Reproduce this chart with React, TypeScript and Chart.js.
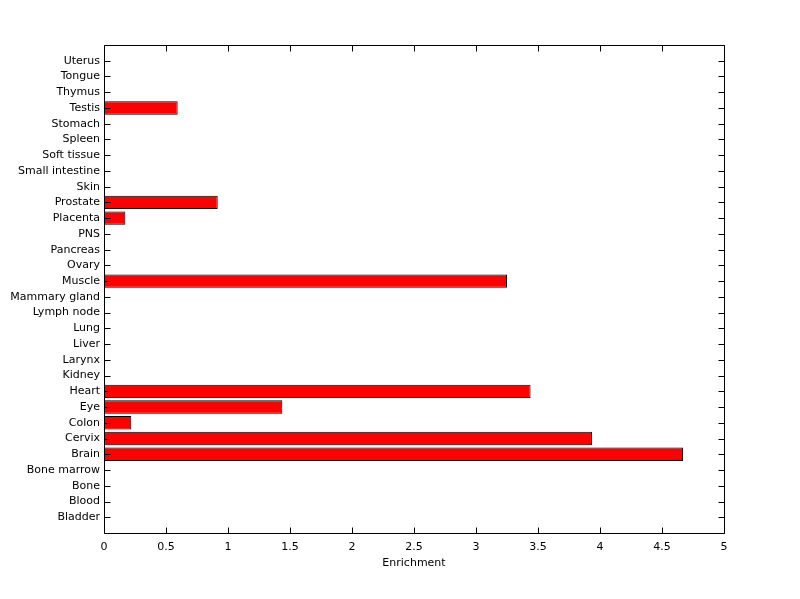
import React, { useEffect, useRef } from "react";
import { Chart, registerables } from "chart.js";

Chart.register(...registerables);

const tissues: string[] = [
  "Bladder", "Blood", "Bone", "Bone marrow", "Brain", "Cervix", "Colon", "Eye", "Heart", "Kidney",
  "Larynx", "Liver", "Lung", "Lymph node", "Mammary gland", "Muscle", "Ovary", "Pancreas", "PNS", "Placenta",
  "Prostate", "Skin", "Small intestine", "Soft tissue", "Spleen", "Stomach", "Testis", "Thymus", "Tongue", "Uterus",
];

const enrichment: number[] = [
  0, 0, 0, 0, 4.67, 3.935, 0.22, 1.438, 3.44, 0,
  0, 0, 0, 0, 0, 3.25, 0, 0, 0, 0.172,
  0.917, 0, 0, 0, 0, 0, 0.594, 0, 0, 0,
];

const xTitle = "Enrichment";

const FONT = "'DejaVu Sans', sans-serif";

const boxTicks = {
  id: "boxTicks",
  afterDraw(chart: any) {
    const { ctx, chartArea } = chart;
    const { left, right, top, bottom } = chartArea;
    const xs = chart.scales.x;
    const ys = chart.scales.y;
    const L = 6;
    ctx.save();
    ctx.strokeStyle = "#000";
    ctx.lineWidth = 1;
    ctx.beginPath();
    const l = Math.round(left) + 0.5;
    const r = Math.round(right) + 0.5;
    const t = Math.round(top) + 0.5;
    const b = Math.round(bottom) + 0.5;
    ctx.rect(l, t, r - l, b - t);
    xs.ticks.forEach((tk: any) => {
      const px = Math.round(xs.getPixelForValue(tk.value)) + 0.5;
      ctx.moveTo(px, b);
      ctx.lineTo(px, b - L);
      ctx.moveTo(px, t);
      ctx.lineTo(px, t + L);
    });
    ys.ticks.forEach((tk: any) => {
      if (tk.value < 1 || tk.value > tissues.length) return;
      const py = Math.round(ys.getPixelForValue(tk.value)) + 0.5;
      ctx.moveTo(l, py);
      ctx.lineTo(l + L, py);
      ctx.moveTo(r, py);
      ctx.lineTo(r - L, py);
    });
    ctx.stroke();
    ctx.restore();
  },
};

export default function App() {
  const ref = useRef<HTMLCanvasElement>(null);

  useEffect(() => {
    document.body.style.margin = "0";
    const canvas = ref.current!;
    const chart = new Chart(canvas, {
      type: "bar",
      data: {
        datasets: [
          {
            data: enrichment.map((v, i) => ({ x: v, y: i + 1 })),
            backgroundColor: "#ff0000",
            borderColor: "#000000",
            borderWidth: 1,
            borderSkipped: false,
            categoryPercentage: 1,
            barPercentage: 0.85,
          },
        ],
      },
      options: {
        indexAxis: "y",
        responsive: false,
        animation: false,
        devicePixelRatio: 1,
        layout: { padding: { top: 45, right: 76, left: 0, bottom: 0 } },
        plugins: {
          legend: { display: false },
          tooltip: { enabled: false },
        },
        scales: {
          x: {
            type: "linear",
            position: "bottom",
            min: 0,
            max: 5,
            offset: false,
            ticks: {
              stepSize: 0.5,
              color: "#000",
              font: { family: FONT, size: 11 },
              padding: 8,
              maxRotation: 0,
              autoSkip: false,
              callback: (v: any) => String(Number(v)),
            },
            grid: { display: false, drawTicks: false, offset: false },
            border: { display: false },
            title: {
              display: true,
              text: xTitle,
              color: "#000",
              font: { family: FONT, size: 11 },
              padding: { top: 2, bottom: 29 },
            },
            afterFit(scale: any) {
              scale.height = 66;
            },
          },
          y: {
            type: "linear",
            position: "left",
            min: 0,
            max: tissues.length + 1,
            offset: false,
            ticks: {
              stepSize: 1,
              autoSkip: false,
              color: "#000",
              font: { family: FONT, size: 11 },
              padding: 4,
              callback: (v: any) => tissues[Number(v) - 1] ?? "",
            },
            grid: { display: false, drawTicks: false, offset: false },
            border: { display: false },
            afterFit(scale: any) {
              scale.width = 104;
            },
          },
        },
      },
      plugins: [boxTicks],
    });
    return () => chart.destroy();
  }, []);

  return (
    <div style={{ width: 800, height: 599, background: "#fff" }}>
      <canvas ref={ref} width={800} height={599} style={{ display: "block" }} />
    </div>
  );
}
